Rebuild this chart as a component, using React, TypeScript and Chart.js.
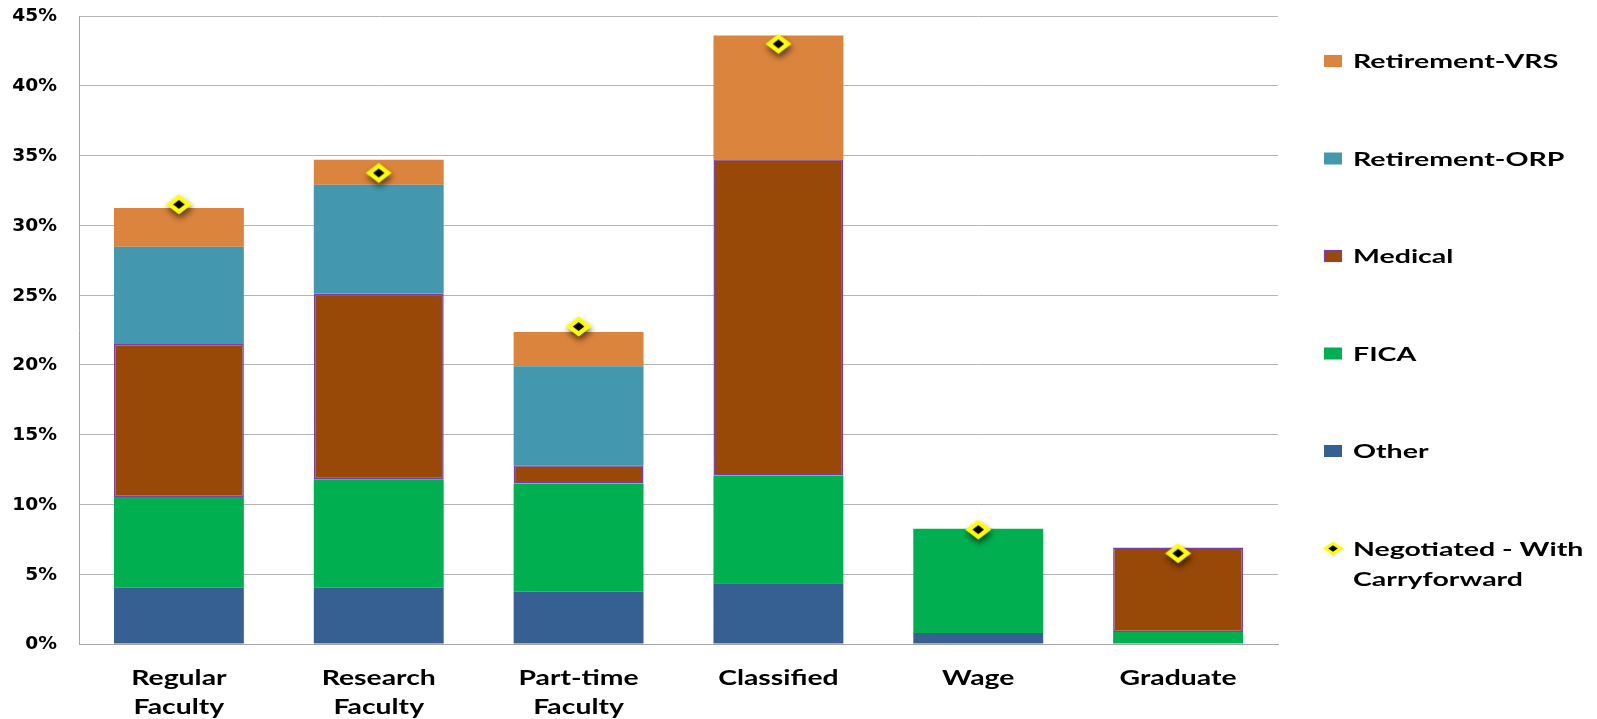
import React, { useEffect, useRef } from "react";
import { Chart, registerables } from "chart.js";

Chart.register(...registerables);

// ---- Data ----
const categories: string[][] = [
  ["Regular", "Faculty"],
  ["Research", "Faculty"],
  ["Part-time", "Faculty"],
  ["Classified"],
  ["Wage"],
  ["Graduate"],
];
const otherValues = [4.05, 4.05, 3.76, 4.35, 0.79, 0];
const ficaValues = [6.48, 7.75, 7.74, 7.73, 7.47, 0.86];
const medicalValues = [10.97, 13.3, 1.3, 22.66, 0, 6.06];
const orpValues = [6.96, 7.8, 7.1, 0, 0, 0];
const vrsValues = [2.79, 1.8, 2.45, 8.86, 0, 0];
const negotiatedValues = [31.5, 33.75, 22.75, 43.0, 8.2, 6.5];
const yMax = 45;
const yStep = 5;

const legendOrder = ["Retirement-VRS", "Retirement-ORP", "Medical", "FICA", "Other", "Negotiated - With Carryforward"];
const legendLines: Record<string, string[]> = {
  "Negotiated - With Carryforward": ["Negotiated - With", "Carryforward"],
};

const COLORS = {
  other: "#376092",
  fica: "#00B050",
  medical: "#984807",
  medicalBorder: "#7A3FA8",
  orp: "#4398AF",
  vrs: "#DB843D",
};

function makeMarker(): HTMLCanvasElement {
  const c = document.createElement("canvas");
  const W = 47, H = 43;
  c.width = W;
  c.height = H;
  const g = c.getContext("2d")!;
  const cx = W / 2, cy = H / 2;
  const hw = 13, hh = 10;
  const diamond = (w: number, h: number) => {
    g.beginPath();
    g.moveTo(cx, cy - h);
    g.lineTo(cx + w, cy);
    g.lineTo(cx, cy + h);
    g.lineTo(cx - w, cy);
    g.closePath();
  };
  g.save();
  g.shadowColor = "rgba(0,0,0,0.6)";
  g.shadowBlur = 6;
  g.shadowOffsetX = 1;
  g.shadowOffsetY = 4;
  diamond(hw, hh);
  g.fillStyle = "#FFFF00";
  g.fill();
  g.restore();
  diamond(hw * 0.44, hh * 0.44);
  g.fillStyle = "#000";
  g.fill();
  return c;
}

const Y_SX = 1.1;
const X_SX = 1.35;
const L_SX = 1.5;

const textPlugin = {
  id: "stretchText",
  afterDraw(chart: any) {
    const { ctx, chartArea, scales } = chart;
    const ys = scales.y, xs = scales.x;
    ctx.save();
    ctx.fillStyle = "#000";

    // y tick labels
    ctx.font = 'bold 17px "DejaVu Sans"';
    ctx.textAlign = "right";
    ctx.textBaseline = "middle";
    ys.ticks.forEach((t: any, i: number) => {
      const py = ys.getPixelForTick(i);
      ctx.save();
      ctx.translate(chartArea.left - 22, py + 1);
      ctx.scale(Y_SX, 1);
      ctx.fillText(t.value + "%", 0, 0);
      ctx.restore();
    });

    // x category labels
    ctx.font = "bold 21px Lato";
    ctx.textAlign = "center";
    ctx.textBaseline = "alphabetic";
    categories.forEach((lines, i) => {
      const px = xs.getPixelForValue(i);
      lines.forEach((ln, j) => {
        ctx.save();
        ctx.translate(px, chartArea.bottom + 41 + j * 29);
        ctx.scale(X_SX, 1);
        ctx.fillText(ln, 0, 0);
        ctx.restore();
      });
    });

    // legend
    const left = chartArea.right + 46;
    const top = 61;
    const step = 97.5;
    ctx.font = "bold 19px Lato";
    ctx.textAlign = "left";
    legendOrder.forEach((label, k) => {
      const ds = chart.data.datasets.find((d: any) => d.label === label);
      if (!ds) return;
      const cy = top + k * step;
      if (ds.type === "line") {
        const cx = left + 9;
        const w = 10.5, h = 7;
        ctx.beginPath();
        ctx.moveTo(cx, cy - h);
        ctx.lineTo(cx + w, cy);
        ctx.lineTo(cx, cy + h);
        ctx.lineTo(cx - w, cy);
        ctx.closePath();
        ctx.fillStyle = "#FFFF00";
        ctx.fill();
        ctx.beginPath();
        ctx.moveTo(cx, cy - h * 0.45);
        ctx.lineTo(cx + w * 0.45, cy);
        ctx.lineTo(cx, cy + h * 0.45);
        ctx.lineTo(cx - w * 0.45, cy);
        ctx.closePath();
        ctx.fillStyle = "#000";
        ctx.fill();
      } else {
        ctx.fillStyle = ds.backgroundColor;
        ctx.fillRect(left, cy - 6, 18, 12);
        if (ds.borderWidth > 1) {
          ctx.strokeStyle = ds.borderColor;
          ctx.lineWidth = 1.2;
          ctx.strokeRect(left + 0.5, cy - 5.5, 17, 11);
        }
      }
      ctx.fillStyle = "#000";
      const lines = legendLines[label] || [label];
      lines.forEach((ln, j) => {
        ctx.save();
        ctx.translate(left + 29, cy + 7 + j * 30);
        ctx.scale(L_SX, 1);
        ctx.fillText(ln, 0, 0);
        ctx.restore();
      });
    });
    ctx.restore();
  },
};

export default function App() {
  const canvasRef = useRef<HTMLCanvasElement | null>(null);

  useEffect(() => {
    document.body.style.margin = "0";
    const canvas = canvasRef.current;
    if (!canvas) return;
    const marker = makeMarker();
    const chart = new Chart(canvas, {
      type: "bar",
      data: {
        labels: categories.map((c) => c.join(" ")),
        datasets: [
          {
            type: "line",
            label: "Negotiated - With Carryforward",
            data: negotiatedValues,
            showLine: false,
            pointStyle: marker as any,
            pointRadius: 10,
            pointHoverRadius: 10,
            stack: "negotiated",
            order: 0,
          } as any,
          {
            label: "Other",
            data: otherValues,
            backgroundColor: COLORS.other,
            borderWidth: 0,
            order: 1,
          },
          {
            label: "FICA",
            data: ficaValues,
            backgroundColor: COLORS.fica,
            borderWidth: 0,
            order: 1,
          },
          {
            label: "Medical",
            data: medicalValues,
            backgroundColor: COLORS.medical,
            borderColor: COLORS.medicalBorder,
            borderWidth: 1.5,
            borderSkipped: false,
            order: 1,
          },
          {
            label: "Retirement-ORP",
            data: orpValues,
            backgroundColor: COLORS.orp,
            borderWidth: 0,
            order: 1,
          },
          {
            label: "Retirement-VRS",
            data: vrsValues,
            backgroundColor: COLORS.vrs,
            borderWidth: 0,
            order: 1,
          },
        ],
      },
      options: {
        responsive: false,
        animation: false,
        layout: { padding: { left: 0, top: 16, right: 319, bottom: 0 } },
        plugins: {
          legend: { display: false },
          tooltip: { enabled: false },
        },
        datasets: {
          bar: { barPercentage: 0.65, categoryPercentage: 1 },
        },
        scales: {
          x: {
            stacked: true,
            grid: { display: false },
            border: { display: true, color: "#a6a6a6", width: 1 },
            ticks: { display: false },
            afterFit: (s: any) => {
              s.height = 75;
            },
          },
          y: {
            stacked: true,
            min: 0,
            max: yMax,
            ticks: { stepSize: yStep, display: false },
            grid: { color: "#b5b5b5", drawTicks: false, lineWidth: 1 },
            border: { display: true, color: "#a6a6a6", width: 1 },
            afterFit: (s: any) => {
              s.width = 79;
            },
          },
        },
      } as any,
      plugins: [textPlugin],
    });
    return () => chart.destroy();
  }, []);

  return (
    <div style={{ position: "relative", width: 1597, height: 719, background: "#fff" }}>
      <canvas ref={canvasRef} width={1597} height={719} style={{ display: "block" }} />
    </div>
  );
}
